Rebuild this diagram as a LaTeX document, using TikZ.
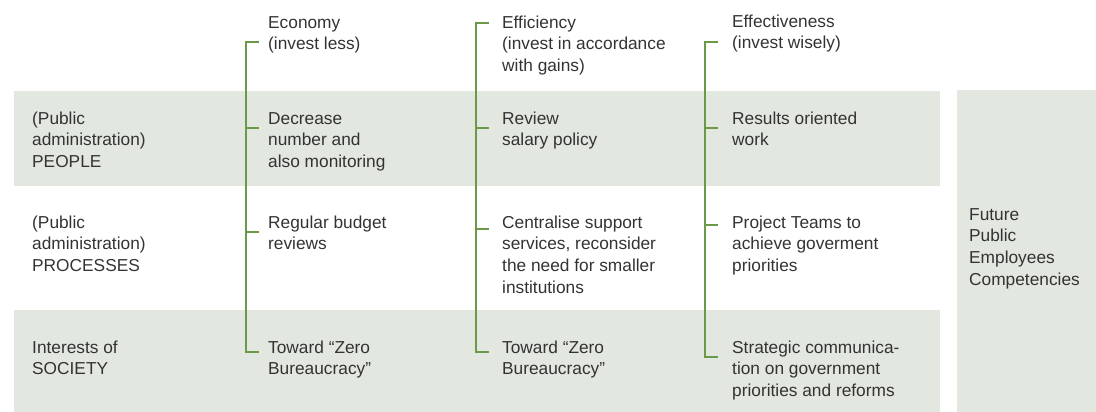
\documentclass[tikz,border=0pt]{standalone}
\usepackage{fontspec}
\setmainfont{Liberation Sans}
\definecolor{band}{HTML}{E2E7E0}
\definecolor{brgreen}{HTML}{6A9A48}
\definecolor{txt}{HTML}{333333}
\tikzset{
  band/.style={fill=band, draw=none},
  lbl/.style={anchor=north west, inner sep=0pt, align=left, text=txt,
    font=\fontsize{17.3}{21.7}\selectfont},
  br/.style={draw=brgreen, line width=2.6pt, line cap=butt, line join=miter},
}
\newcommand{\fl}{\rule{0pt}{14pt}}
\begin{document}
\begin{tikzpicture}[x=1pt,y=-1pt]
\useasboundingbox (0,0) rectangle (1096,412);
% bands
\path[band] (14,91) rectangle (940,186);
\path[band] (14,310) rectangle (940,412);
\path[band] (957,90) rectangle (1096,412);

% headers
\node[lbl] (econ) at (268,14) {\fl Economy\\(invest less)};
\node[lbl] (effi) at (502,14) {\fl Efficiency\\(invest in accordance\\with gains)};
\node[lbl] (effe) at (732,13) {\fl Effectiveness\\(invest wisely)};

% row labels
\node[lbl] (people) at (32,110) {\fl (Public\\administration)\\PEOPLE};
\node[lbl] (processes) at (32,214) {\fl (Public\\administration)\\PROCESSES};
\node[lbl] (society) at (32,339) {\fl Interests of\\SOCIETY};

% economy column
\node[lbl] (decrease) at (268,110) {\fl Decrease\\number and\\also monitoring};
\node[lbl] (budget) at (268,214) {\fl Regular budget\\reviews};
\node[lbl] (zeroA) at (268,339) {\fl Toward “Zero\\Bureaucracy”};

% efficiency column
\node[lbl] (review) at (502,110) {\fl Review\\salary policy};
\node[lbl] (central) at (502,214) {\fl Centralise support\\services, reconsider\\the need for smaller\\institutions};
\node[lbl] (zeroB) at (502,339) {\fl Toward “Zero\\Bureaucracy”};

% effectiveness column
\node[lbl] (results) at (732,110) {\fl Results oriented\\work};
\node[lbl] (project) at (732,214) {\fl Project Teams to\\achieve goverment\\priorities};
\node[lbl] (strategic) at (732,339) {\fl Strategic communica-\\tion on government\\priorities and reforms};

% right box
\node[lbl] (future) at (969,206) {\fl Future\\Public\\Employees\\Competencies};

% bracket coordinates: economy
\coordinate (a0) at (246,42);  \coordinate (a0t) at (259,42);
\coordinate (a1) at (246,128); \coordinate (a1t) at (259,128);
\coordinate (a2) at (246,232); \coordinate (a2t) at (259,232);
\coordinate (a3) at (246,352); \coordinate (a3t) at (259,352);
% efficiency
\coordinate (b0) at (476,23);  \coordinate (b0t) at (489,23);
\coordinate (b1) at (476,128); \coordinate (b1t) at (489,128);
\coordinate (b2) at (476,229); \coordinate (b2t) at (489,229);
\coordinate (b3) at (476,352); \coordinate (b3t) at (489,352);
% effectiveness
\coordinate (c0) at (705,42);  \coordinate (c0t) at (718,42);
\coordinate (c1) at (705,128); \coordinate (c1t) at (718,128);
\coordinate (c2) at (705,225); \coordinate (c2t) at (718,225);
\coordinate (c3) at (705,357); \coordinate (c3t) at (718,357);

\draw[br] (a0t) -- (a0) -- (a3) -- (a3t);
\draw[br] (a1) -- (a1t);
\draw[br] (a2) -- (a2t);
\draw[br] (b0t) -- (b0) -- (b3) -- (b3t);
\draw[br] (b1) -- (b1t);
\draw[br] (b2) -- (b2t);
\draw[br] (c0t) -- (c0) -- (c3) -- (c3t);
\draw[br] (c1) -- (c1t);
\draw[br] (c2) -- (c2t);
\end{tikzpicture}
\end{document}
